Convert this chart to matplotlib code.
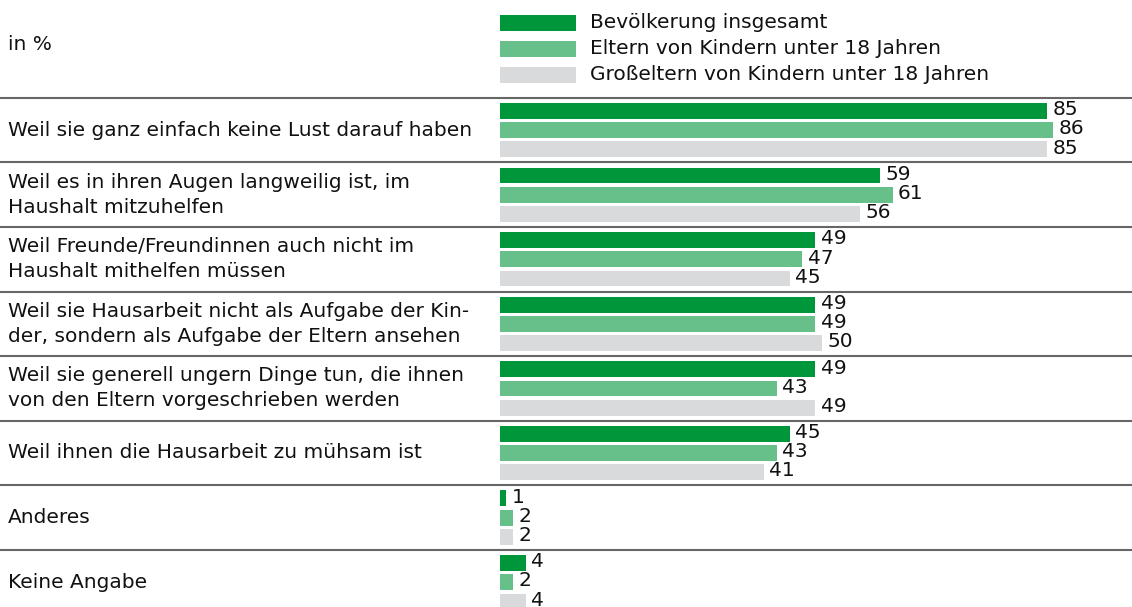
import matplotlib
matplotlib.use("Agg")
import matplotlib.pyplot as plt
from matplotlib.patches import Rectangle
import numpy as np

plt.rcParams['font.family'] = ['DejaVu Sans']

categories = [
    "Weil sie ganz einfach keine Lust darauf haben",
    "Weil es in ihren Augen langweilig ist, im\nHaushalt mitzuhelfen",
    "Weil Freunde/Freundinnen auch nicht im\nHaushalt mithelfen müssen",
    "Weil sie Hausarbeit nicht als Aufgabe der Kin-\nder, sondern als Aufgabe der Eltern ansehen",
    "Weil sie generell ungern Dinge tun, die ihnen\nvon den Eltern vorgeschrieben werden",
    "Weil ihnen die Hausarbeit zu mühsam ist",
    "Anderes",
    "Keine Angabe",
]
series_names = [
    "Bevölkerung insgesamt",
    "Eltern von Kindern unter 18 Jahren",
    "Großeltern von Kindern unter 18 Jahren",
]
bevoelkerung = [85, 59, 49, 49, 49, 45, 1, 4]
eltern = [86, 61, 47, 49, 43, 43, 2, 2]
grosseltern = [85, 56, 45, 50, 49, 41, 2, 4]
series = [bevoelkerung, eltern, grosseltern]
colors = ["#00963a", "#67c08a", "#d9dadb"]

W, H = 1132, 607
fig = plt.figure(figsize=(W / 100, H / 100), dpi=100)
ax = fig.add_axes([0, 0, 1, 1])

px_per_unit = 6.435
x0_px = 500
group_px = 64.6
g0_px = 130
ax.set_xlim(-x0_px / px_per_unit, (W - x0_px) / px_per_unit)
ax.set_ylim((H - g0_px) / group_px, -g0_px / group_px)
ax.axis('off')

def px2y(py):
    return (py - g0_px) / group_px

def px2x(px):
    return (px - x0_px) / px_per_unit

offset = 19.2 / group_px
bar_h = 15.8 / group_px
fs = 14.5
y_groups = np.arange(len(categories))

for k, (vals, col) in enumerate(zip(series, colors)):
    ys = y_groups + (k - 1) * offset
    ax.barh(ys, vals, height=bar_h, color=col, left=0)
    for y, v in zip(ys, vals):
        ax.text(v + 5.5 / px_per_unit, y - 1.2 / group_px, str(v), va='center', ha='left',
                fontsize=fs, color='#111111')

for i, cat in enumerate(categories):
    ax.text(px2x(8), i, cat, va='center', ha='left', fontsize=fs,
            color='#111111', linespacing=1.4)
    ax.axhline(i - 0.5, color='#666666', lw=1.5)

# header
ax.text(px2x(8), px2y(45), "in %", va='center', ha='left', fontsize=fs, color='#111111')
leg_y = [23, 49, 75]
for name, col, ly in zip(series_names, colors, leg_y):
    ax.add_patch(Rectangle((0, px2y(ly - 8)), px2x(576), 16 / group_px, color=col, lw=0))
    ax.text(px2x(590), px2y(ly), name, va='center', ha='left', fontsize=fs, color='#111111')

fig.savefig("out.png", dpi=100)
